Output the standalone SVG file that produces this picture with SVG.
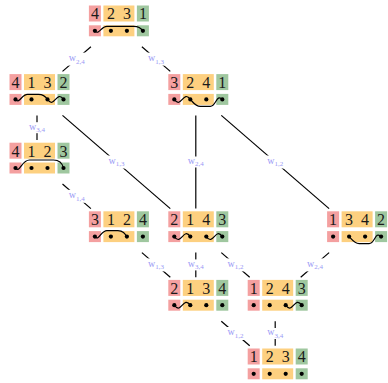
<svg xmlns="http://www.w3.org/2000/svg" width="388" height="383" viewBox="0 0 388 383">
<style>
.r{fill:#f4a0a0}.o{fill:#fdd080}.g{fill:#9fc79f}
.d{font-family:"Liberation Serif",serif;font-size:16px;text-anchor:middle;fill:#1a1a1a}
.a{fill:none;stroke:#000;stroke-width:1.2}
.e{stroke:#000;stroke-width:1.2}
.lb{fill:#fff}
.lt{font-family:"Liberation Serif",serif;font-size:10px;fill:#9999f5;text-anchor:middle}
.sub{font-size:7px}
</style>
<defs>
<g id="boxes">
<rect class="r" x="0" y="-8.3" width="12" height="16"/>
<rect class="o" x="14.5" y="-8.3" width="31" height="16"/>
<rect class="g" x="48" y="-8.3" width="12" height="16"/>
<rect class="r" x="0" y="11.5" width="12" height="11"/>
<rect class="o" x="14.5" y="11.5" width="31" height="11"/>
<rect class="g" x="48" y="11.5" width="12" height="11"/>
<circle cx="6" cy="17" r="2.1"/><circle cx="22" cy="17" r="2.1"/><circle cx="38" cy="17" r="2.1"/><circle cx="54" cy="17" r="2.1"/>
</g>
</defs>
<g id="connectors">
<line class="e" x1="90.9" y1="46.8" x2="62.5" y2="71.4"/>
<line class="e" x1="141.9" y1="46.8" x2="170.3" y2="71.4"/>
<line class="e" x1="37" y1="115.4" x2="37" y2="140"/>
<line class="e" x1="62.5" y1="115.4" x2="170.3" y2="208.6"/>
<line class="e" x1="195.8" y1="115.4" x2="195.8" y2="208.6"/>
<line class="e" x1="221.3" y1="115.4" x2="329.1" y2="208.6"/>
<line class="e" x1="62.5" y1="184" x2="90.9" y2="208.6"/>
<line class="e" x1="141.9" y1="252.6" x2="170.3" y2="277.2"/>
<line class="e" x1="195.8" y1="252.6" x2="195.8" y2="277.2"/>
<line class="e" x1="221.3" y1="252.6" x2="249.7" y2="277.2"/>
<line class="e" x1="329.1" y1="252.6" x2="300.7" y2="277.2"/>
<line class="e" x1="221.3" y1="321.2" x2="249.7" y2="345.8"/>
<line class="e" x1="275.2" y1="321.2" x2="275.2" y2="345.8"/>
<g id="labels">
<rect class="lb" x="66.2" y="52.6" width="21" height="13"/><text class="lt" x="76.7" y="61"><tspan>w</tspan><tspan class="sub" dy="2.5">2,4</tspan></text>
<rect class="lb" x="145.6" y="52.6" width="21" height="13"/><text class="lt" x="156.1" y="61"><tspan>w</tspan><tspan class="sub" dy="2.5">1,3</tspan></text>
<rect class="lb" x="26.5" y="122.2" width="21" height="11"/><text class="lt" x="37" y="129.6"><tspan>w</tspan><tspan class="sub" dy="2.5">3,4</tspan></text>
<rect class="lb" x="105.9" y="155.5" width="21" height="13"/><text class="lt" x="116.4" y="163.9"><tspan>w</tspan><tspan class="sub" dy="2.5">1,3</tspan></text>
<rect class="lb" x="185.3" y="156.5" width="21" height="11"/><text class="lt" x="195.8" y="163.9"><tspan>w</tspan><tspan class="sub" dy="2.5">2,4</tspan></text>
<rect class="lb" x="264.7" y="155.5" width="21" height="13"/><text class="lt" x="275.2" y="163.9"><tspan>w</tspan><tspan class="sub" dy="2.5">1,2</tspan></text>
<rect class="lb" x="66.2" y="189.8" width="21" height="13"/><text class="lt" x="76.7" y="198.2"><tspan>w</tspan><tspan class="sub" dy="2.5">1,4</tspan></text>
<rect class="lb" x="145.6" y="258.4" width="21" height="13"/><text class="lt" x="156.1" y="266.8"><tspan>w</tspan><tspan class="sub" dy="2.5">1,3</tspan></text>
<rect class="lb" x="185.3" y="259.4" width="21" height="11"/><text class="lt" x="195.8" y="266.8"><tspan>w</tspan><tspan class="sub" dy="2.5">3,4</tspan></text>
<rect class="lb" x="225" y="258.4" width="21" height="13"/><text class="lt" x="235.5" y="266.8"><tspan>w</tspan><tspan class="sub" dy="2.5">1,2</tspan></text>
<rect class="lb" x="304.4" y="258.4" width="21" height="13"/><text class="lt" x="314.9" y="266.8"><tspan>w</tspan><tspan class="sub" dy="2.5">2,4</tspan></text>
<rect class="lb" x="225" y="327" width="21" height="13"/><text class="lt" x="235.5" y="335.4"><tspan>w</tspan><tspan class="sub" dy="2.5">1,2</tspan></text>
<rect class="lb" x="264.7" y="328" width="21" height="11"/><text class="lt" x="275.2" y="335.4"><tspan>w</tspan><tspan class="sub" dy="2.5">3,4</tspan></text>
</g>
</g>
<g id="n4231" transform="translate(88.9,13.8)"><use href="#boxes"/>
<text class="d" x="6" y="5.5">4</text><text class="d" x="22" y="5.5">2</text><text class="d" x="38" y="5.5">3</text><text class="d" x="54" y="5.5">1</text>
<path class="a" d="M6 17 C10 22 12 12.5 18 12.5 L45 12.5 C50 12.5 52 14 54 17"/></g>
<g id="n4132" transform="translate(9.5,82.4)"><use href="#boxes"/>
<text class="d" x="6" y="5.5">4</text><text class="d" x="22" y="5.5">1</text><text class="d" x="38" y="5.5">3</text><text class="d" x="54" y="5.5">2</text>
<path class="a" d="M6 17 C10 22 12 12 18 12 L29 12 C34 12 36 14 38 17 C45 27 47 7 54 17"/></g>
<g id="n3241" transform="translate(168.3,82.4)"><use href="#boxes"/>
<text class="d" x="6" y="5.5">3</text><text class="d" x="22" y="5.5">2</text><text class="d" x="38" y="5.5">4</text><text class="d" x="54" y="5.5">1</text>
<path class="a" d="M6 17 C13 27 15 7 22 17 C25 20 27 24 32 24 L42 24 C48 24 48 11 54 17"/></g>
<g id="n4123" transform="translate(9.5,151)"><use href="#boxes"/>
<text class="d" x="6" y="5.5">4</text><text class="d" x="22" y="5.5">1</text><text class="d" x="38" y="5.5">2</text><text class="d" x="54" y="5.5">3</text>
<path class="a" d="M6 17 C10 23 12 9 20 9 L44 9 C50 9 53 13 54 17"/></g>
<g id="n3124" transform="translate(88.9,219.6)"><use href="#boxes"/>
<text class="d" x="6" y="5.5">3</text><text class="d" x="22" y="5.5">1</text><text class="d" x="38" y="5.5">2</text><text class="d" x="54" y="5.5">4</text>
<path class="a" d="M6 17 C10 22 12 11 18 11 L29 11 C34 11 36 14 38 17"/></g>
<g id="n2143" transform="translate(168.3,219.6)"><use href="#boxes"/>
<text class="d" x="6" y="5.5">2</text><text class="d" x="22" y="5.5">1</text><text class="d" x="38" y="5.5">4</text><text class="d" x="54" y="5.5">3</text>
<path class="a" d="M6 17 C13 27 15 7 22 17 M38 17 C45 27 47 7 54 17"/></g>
<g id="n1342" transform="translate(327.1,219.6)"><use href="#boxes"/>
<text class="d" x="6" y="5.5">1</text><text class="d" x="22" y="5.5">3</text><text class="d" x="38" y="5.5">4</text><text class="d" x="54" y="5.5">2</text>
<path class="a" d="M22 17 C25 20 27 24 32 24 L42 24 C48 24 48 11 54 17"/></g>
<g id="n2134" transform="translate(168.3,288.2)"><use href="#boxes"/>
<text class="d" x="6" y="5.5">2</text><text class="d" x="22" y="5.5">1</text><text class="d" x="38" y="5.5">3</text><text class="d" x="54" y="5.5">4</text>
<path class="a" d="M6 17 C13 27 15 7 22 17"/></g>
<g id="n1243" transform="translate(247.7,288.2)"><use href="#boxes"/>
<text class="d" x="6" y="5.5">1</text><text class="d" x="22" y="5.5">2</text><text class="d" x="38" y="5.5">4</text><text class="d" x="54" y="5.5">3</text>
<path class="a" d="M38 17 C45 27 47 7 54 17"/></g>
<g id="n1234" transform="translate(247.7,356.8)"><use href="#boxes"/>
<text class="d" x="6" y="5.5">1</text><text class="d" x="22" y="5.5">2</text><text class="d" x="38" y="5.5">3</text><text class="d" x="54" y="5.5">4</text>
</g>
</svg>
